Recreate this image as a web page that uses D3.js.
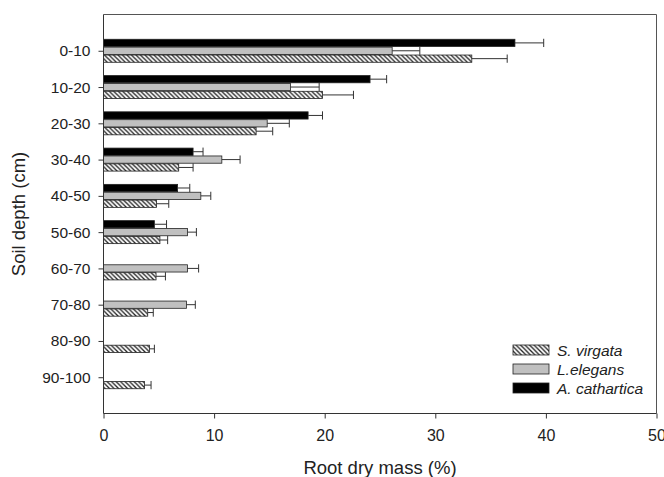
<!DOCTYPE html>
<html>
<head>
<meta charset="utf-8">
<script src="https://cdn.jsdelivr.net/npm/d3@7"></script>
<style>
  html, body { margin: 0; padding: 0; background: #fff; }
  svg { display: block; font-family: "Liberation Sans", Arial, sans-serif; }
</style>
</head>
<body>
<svg id="chart" width="664" height="477"></svg>
<script>
// ---- data ----
const depths = ["0-10","10-20","20-30","30-40","40-50","50-60","60-70","70-80","80-90","90-100"];
const seriesNames = ["A. cathartica", "L.elegans", "S. virgata"];
const aCathartica     = [37.2, 24.1, 18.5, 8.1, 6.7, 4.6, null, null, null, null];
const aCatharticaErr  = [2.6, 1.5, 1.3, 0.9, 1.1, 1.1, null, null, null, null];
const lElegans        = [26.1, 16.9, 14.8, 10.7, 8.8, 7.6, 7.6, 7.5, null, null];
const lElegansErr     = [2.5, 2.6, 2.0, 1.65, 0.9, 0.8, 1.0, 0.8, null, null];
const sVirgata        = [33.3, 19.8, 13.8, 6.8, 4.8, 5.1, 4.75, 4.0, 4.15, 3.7];
const sVirgataErr     = [3.2, 2.8, 1.5, 1.3, 1.1, 0.7, 0.85, 0.5, 0.45, 0.6];
const xTicks = [0, 10, 20, 30, 40, 50];
const legendOrder = ["S. virgata", "L.elegans", "A. cathartica"];

const seriesVals = { "A. cathartica": aCathartica, "L.elegans": lElegans, "S. virgata": sVirgata };
const seriesErrs = { "A. cathartica": aCatharticaErr, "L.elegans": lElegansErr, "S. virgata": sVirgataErr };
const fills = { "A. cathartica": "#000", "L.elegans": "#c0c0c0", "S. virgata": "url(#hatch)" };

// ---- layout ----
const svg = d3.select("#chart");
const pLeft = 103.5, pRight = 656.5, pTop = 14.5, pBottom = 413.5;

const x = d3.scaleLinear().domain([0, 50]).range([pLeft, pRight]);
const y = d3.scalePoint().domain(depths).range([pTop, pBottom]).padding(1);
const sub = d3.scaleBand().domain(seriesNames).range([-11.5, 11.5]).paddingInner(0.08);

// hatch pattern
const defs = svg.append("defs");
const pat = defs.append("pattern").attr("id", "hatch")
  .attr("patternUnits", "userSpaceOnUse").attr("width", 4.5).attr("height", 4.5);
pat.append("rect").attr("width", 4.5).attr("height", 4.5).attr("fill", "#fff");
pat.append("path").attr("d", "M0,0 L4.5,4.5 M-1,3.5 L1,5.5 M3.5,-1 L5.5,1")
  .attr("stroke", "#222").attr("stroke-width", 1.3);

// frame (top and right)
svg.append("path")
  .attr("d", `M${pLeft},${pTop} H${pRight} V${pBottom}`)
  .attr("fill", "none").attr("stroke", "#555").attr("stroke-width", 1);

// bars
const rows = [];
depths.forEach((d, i) => {
  seriesNames.forEach(s => {
    const v = seriesVals[s][i];
    if (v != null) rows.push({ depth: d, series: s, value: v, err: seriesErrs[s][i] });
  });
});

const g = svg.append("g");
g.selectAll("rect.bar").data(rows).join("rect")
  .attr("class", "bar")
  .attr("x", x(0))
  .attr("y", d => y(d.depth) + sub(d.series))
  .attr("width", d => x(d.value) - x(0))
  .attr("height", sub.bandwidth())
  .attr("fill", d => fills[d.series])
  .attr("stroke", "#222").attr("stroke-width", 0.8);

// error bars
const eb = g.selectAll("g.err").data(rows).join("g").attr("class", "err");
eb.append("line")
  .attr("x1", d => x(d.value)).attr("x2", d => x(d.value + d.err))
  .attr("y1", d => y(d.depth) + sub(d.series) + sub.bandwidth() / 2)
  .attr("y2", d => y(d.depth) + sub(d.series) + sub.bandwidth() / 2)
  .attr("stroke", "#333").attr("stroke-width", 1);
eb.append("line")
  .attr("x1", d => x(d.value + d.err)).attr("x2", d => x(d.value + d.err))
  .attr("y1", d => y(d.depth) + sub(d.series) - 0.5)
  .attr("y2", d => y(d.depth) + sub(d.series) + sub.bandwidth() + 0.5)
  .attr("stroke", "#333").attr("stroke-width", 1);

// axes
const xAxis = svg.append("g").attr("transform", `translate(0,${pBottom})`)
  .call(d3.axisBottom(x).tickValues(xTicks).tickSize(5).tickPadding(11).tickSizeOuter(0));
const yAxis = svg.append("g").attr("transform", `translate(${pLeft},0)`)
  .call(d3.axisLeft(y).tickSize(5).tickPadding(8).tickSizeOuter(0));
[xAxis, yAxis].forEach(a => {
  a.select(".domain").attr("stroke", "#333");
  a.selectAll(".tick line").attr("stroke", "#333");
  a.selectAll(".tick text").attr("fill", "#222").style("font-size", "15.5px")
    .style("font-family", "'Liberation Sans', Arial, sans-serif");
});
xAxis.selectAll(".tick text").style("font-size", "16px");
yAxis.select(".domain").attr("d", `M0,${pTop}V${pBottom}`);
xAxis.select(".domain").attr("d", `M${pLeft},0H${pRight}`);

// axis titles
svg.append("text").attr("x", (pLeft + pRight) / 2).attr("y", 474)
  .attr("text-anchor", "middle").attr("fill", "#222").style("font-size", "18.5px")
  .text("Root dry mass (%)");
svg.append("text")
  .attr("transform", `translate(25,${(pTop + pBottom) / 2}) rotate(-90)`)
  .attr("text-anchor", "middle").attr("fill", "#222").style("font-size", "18.5px")
  .text("Soil depth (cm)");

// legend
const leg = svg.append("g");
legendOrder.forEach((s, i) => {
  const yy = 345 + i * 19;
  leg.append("rect").attr("x", 513).attr("y", yy).attr("width", 36).attr("height", 10)
    .attr("fill", fills[s]).attr("stroke", "#222").attr("stroke-width", 0.8);
  leg.append("text").attr("x", 557).attr("y", yy + 10.5)
    .attr("fill", "#222").style("font-size", "15.5px").style("font-style", "italic")
    .text(s);
});
</script>
</body>
</html>
